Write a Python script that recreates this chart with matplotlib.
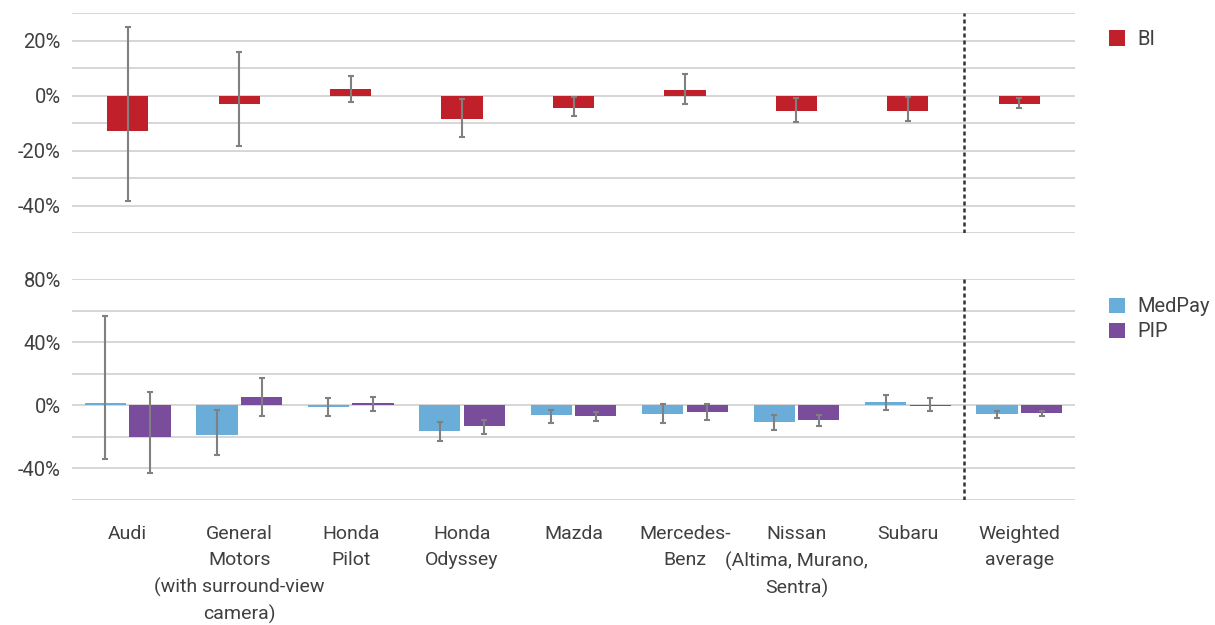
import matplotlib
matplotlib.use("Agg")
import matplotlib.pyplot as plt
import numpy as np

categories = ["Audi", "General\nMotors\n(with surround-view\ncamera)", "Honda\nPilot",
              "Honda\nOdyssey", "Mazda", "Mercedes-\nBenz", "Nissan\n(Altima, Murano,\nSentra)",
              "Subaru", "Weighted\naverage"]

# BI estimates with lower / upper confidence limits (%)
bi = [-12.7, -2.8, 2.6, -8.3, -4.3, 2.2, -5.4, -5.4, -2.8]
bi_low = [-38.4, -18.4, -2.3, -15.0, -7.4, -3.0, -9.6, -9.2, -4.5]
bi_high = [25.1, 15.9, 7.2, -1.2, -0.5, 7.9, -0.8, -0.5, -0.8]

medpay = [1.3, -18.7, -1.1, -16.6, -6.2, -5.5, -10.6, 1.9, -5.5]
medpay_low = [-34.0, -31.4, -6.6, -22.5, -11.0, -11.0, -15.5, -2.8, -7.8]
medpay_high = [56.5, -2.8, 4.3, -10.4, -2.8, 1.1, -5.9, 6.8, -3.4]

pip = [-20.2, 5.1, 1.3, -13.2, -6.8, -4.3, -9.4, -0.4, -4.9]
pip_low = [-42.9, -6.6, -3.4, -18.0, -9.8, -9.1, -12.9, -3.4, -6.6]
pip_high = [8.7, 17.0, 5.5, -9.3, -4.0, 1.1, -5.9, 4.3, -3.4]

RED = "#C0202A"
BLUE = "#6AADD9"
PURPLE = "#7A4C9C"
ERR = "#808080"
GRID = "#D0D0D0"
TXT = "#404040"

plt.rcParams["font.family"] = ["Roboto", "DejaVu Sans"]


def yerr(vals, low, high):
    v = np.array(vals)
    return [v - np.array(low), np.array(high) - v]


def style_axis(ax, ymin, ymax, minor_step, major_ticks):
    ax.set_ylim(ymin, ymax)
    ax.set_xlim(-0.5, len(categories) - 0.5)
    ax.set_yticks(major_ticks)
    ax.set_yticklabels([f"{t}%" for t in major_ticks], color=TXT, fontsize=14.5)
    ax.set_yticks(np.arange(ymin, ymax + 0.1, minor_step), minor=True)
    ax.grid(True, axis="y", which="both", color=GRID, linewidth=1.2)
    ax.set_axisbelow(True)
    for s in ax.spines.values():
        s.set_visible(False)
    ax.tick_params(axis="both", which="both", length=0)
    ax.tick_params(axis="y", pad=8)
    ax.axvline(len(categories) - 1.5, color="#333333", linewidth=1.8, linestyle=(0, (1.6, 1.2)))


fig = plt.figure(figsize=(12.15, 6.25), dpi=100)
ax1 = fig.add_axes([0.0593, 0.6267, 0.8255, 0.352])
ax2 = fig.add_axes([0.0593, 0.2005, 0.8255, 0.3526])

x = np.arange(len(categories))
w = 0.37
eb = dict(ecolor=ERR, elinewidth=1.5, capsize=2.5, capthick=1.5)

ax1.bar(x, bi, w, color=RED, label="BI", yerr=yerr(bi, bi_low, bi_high), error_kw=eb)
style_axis(ax1, -50, 30, 10, [-40, -20, 0, 20])
ax1.set_xticks([])

off = 0.2
ax2.bar(x - off, medpay, w, color=BLUE, label="MedPay",
        yerr=yerr(medpay, medpay_low, medpay_high), error_kw=eb)
ax2.bar(x + off, pip, w, color=PURPLE, label="PIP",
        yerr=yerr(pip, pip_low, pip_high), error_kw=eb)
style_axis(ax2, -60, 80, 20, [-40, 0, 40, 80])
ax2.set_xticks(x)
ax2.set_xticklabels(categories, color=TXT, fontsize=14, linespacing=1.58, va="top")
ax2.tick_params(axis="x", pad=18)

leg_kw = dict(frameon=False, fontsize=14.5, handlelength=0.8, handleheight=0.8,
              handletextpad=0.6, labelspacing=0.3, borderaxespad=0, labelcolor=TXT)
ax1.legend(loc="upper left", bbox_to_anchor=(0.906, 0.965), bbox_transform=fig.transFigure, **leg_kw)
ax2.legend(loc="upper left", bbox_to_anchor=(0.906, 0.537), bbox_transform=fig.transFigure, **leg_kw)

fig.savefig("out.png", dpi=100, facecolor="white")
